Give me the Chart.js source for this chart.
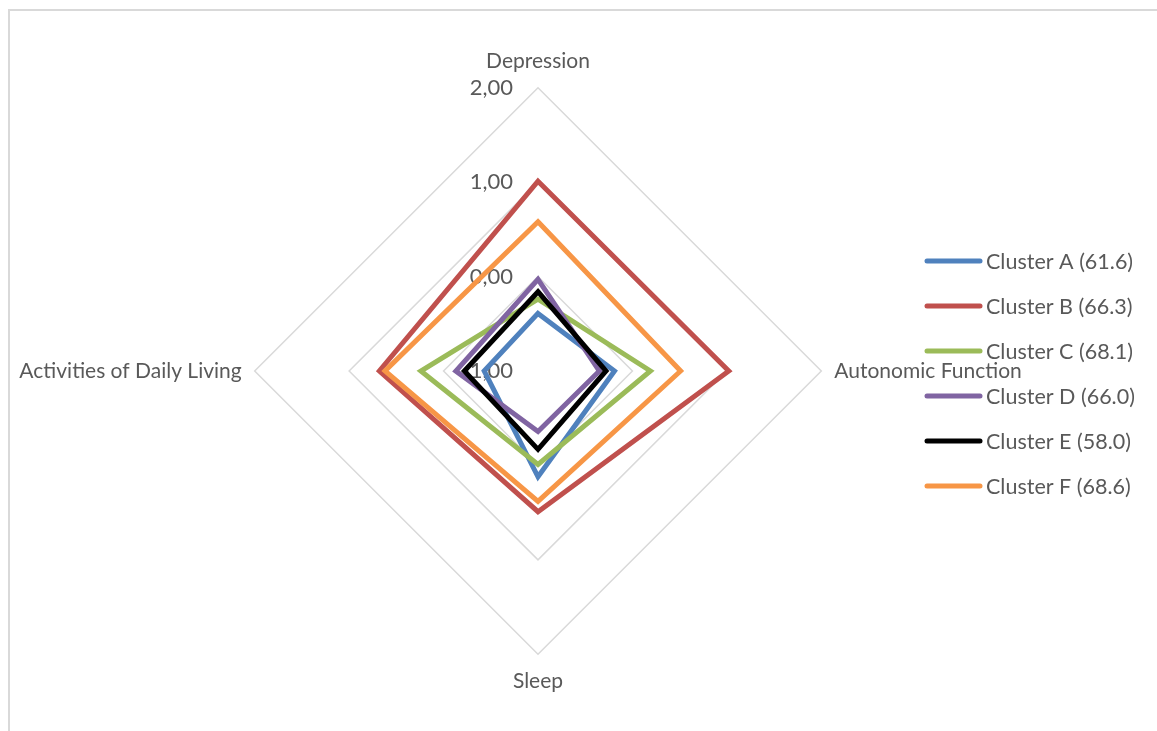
<!DOCTYPE html>
<html>
<head>
<meta charset="utf-8">
<script src="https://cdn.jsdelivr.net/npm/chart.js@4/dist/chart.umd.min.js"></script>
<style>
  html, body { margin: 0; padding: 0; background: #fff; overflow: hidden; }
  #wrap { position: relative; width: 1157px; height: 731px; overflow: hidden; }
  #frame {
    position: absolute; left: 8px; top: 9px; width: 1300px; height: 900px;
    border-top: 2px solid #d9d9d9; border-left: 2px solid #d9d9d9;
  }
  /* canvas is wider than the page so the side labels never squeeze the radar */
  canvas { position: absolute; left: -100px; top: 0; }
</style>
</head>
<body>
<div id="wrap">
  <div id="frame"></div>
  <canvas id="radarChart" width="1400" height="731"></canvas>
</div>
<script>
// axes and scale
const axisLabels = ['Depression', 'Autonomic Function', 'Sleep', 'Activities of Daily Living'];
const tickValues = [-1, 0, 1, 2];

// cluster names and scores per axis
const clusterNames = ['Cluster A (61.6)', 'Cluster B (66.3)', 'Cluster C (68.1)',
                      'Cluster D (66.0)', 'Cluster E (58.0)', 'Cluster F (68.6)'];
const clusterA = [-0.39, -0.19, 0.12, -0.43];
const clusterB = [1.01, 1.02, 0.49, 0.68];
const clusterC = [-0.24, 0.19, -0.01, 0.24];
const clusterD = [-0.03, -0.35, -0.36, -0.13];
const clusterE = [-0.16, -0.28, -0.17, -0.22];
const clusterF = [0.58, 0.51, 0.38, 0.62];

const clusterColors = ['#4F81BD', '#C0504D', '#9BBB59', '#8064A2', '#000000', '#F79646'];
const textColor = '#595959';
const fontFamily = "Lato, 'Open Sans', sans-serif";

const seriesValues = [clusterA, clusterB, clusterC, clusterD, clusterE, clusterF];

// tick labels drawn left of the vertical axis, under the lines
const sideTicks = {
  id: 'sideTicks',
  beforeDatasetsDraw(chart) {
    const scale = chart.scales.r;
    const ctx = chart.ctx;
    ctx.save();
    ctx.font = '22px ' + fontFamily;
    ctx.fillStyle = textColor;
    ctx.textAlign = 'right';
    ctx.textBaseline = 'middle';
    scale.ticks.forEach(t => {
      const y = scale.yCenter - scale.getDistanceFromCenterForValue(t.value);
      ctx.fillText(t.value.toFixed(2).replace('.', ','), scale.xCenter - 25, y);
    });
    ctx.restore();
  }
};

// legend on the right, overlapping the plot area
const sideLegend = {
  id: 'sideLegend',
  afterDraw(chart, args, opts) {
    const ctx = chart.ctx;
    ctx.save();
    ctx.font = '21.5px ' + fontFamily;
    ctx.textBaseline = 'middle';
    ctx.textAlign = 'left';
    chart.data.datasets.forEach((ds, i) => {
      const y = opts.top + i * opts.gap;
      ctx.strokeStyle = ds.borderColor;
      ctx.lineWidth = 5;
      ctx.lineCap = 'round';
      ctx.beginPath();
      ctx.moveTo(opts.x, y);
      ctx.lineTo(opts.x + 53, y);
      ctx.stroke();
      ctx.fillStyle = textColor;
      ctx.fillText(ds.label, opts.x + 59, y + 1);
    });
    ctx.restore();
  }
};

const ctxRadar = document.getElementById('radarChart').getContext('2d');
new Chart(ctxRadar, {
  type: 'radar',
  data: {
    labels: axisLabels,
    datasets: seriesValues.map((vals, i) => ({
      label: clusterNames[i],
      data: vals,
      borderColor: clusterColors[i],
      backgroundColor: 'rgba(0,0,0,0)',
      borderWidth: 5,
      fill: false,
      pointRadius: 0,
      pointHoverRadius: 0,
      order: seriesValues.length - i
    }))
  },
  options: {
    responsive: false,
    animation: false,
    layout: { padding: { top: 49.5, bottom: 36.5, left: 50, right: 174 } },
    plugins: {
      legend: { display: false },
      tooltip: { enabled: false },
      sideLegend: { x: 1027, top: 261, gap: 45 }
    },
    scales: {
      r: {
        min: tickValues[0],
        max: tickValues[tickValues.length - 1],
        ticks: { stepSize: 1, display: false },
        grid: { color: '#d9d9d9', lineWidth: 1.5 },
        angleLines: { display: false },
        pointLabels: {
          color: textColor,
          font: { family: fontFamily, size: 21 },
          padding: c => (c.index % 2 ? 13 : 14)
        }
      }
    }
  },
  plugins: [sideTicks, sideLegend]
});
</script>
</body>
</html>
